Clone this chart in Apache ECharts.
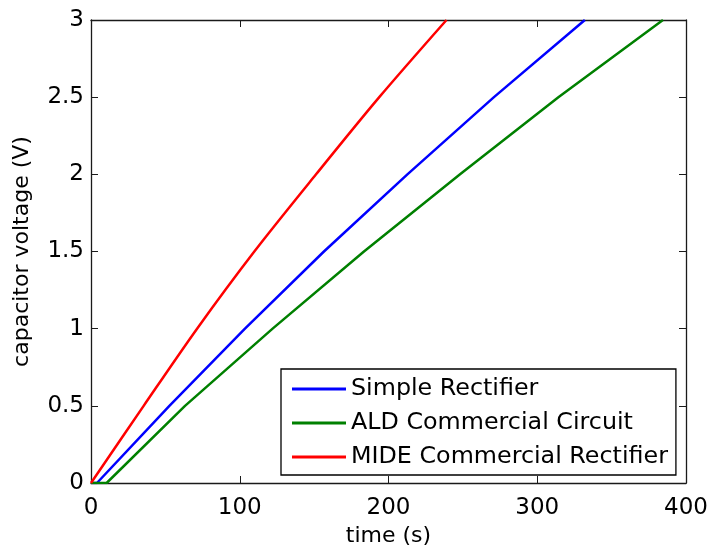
<!DOCTYPE html>
<html>
<head>
<meta charset="utf-8">
<script src="https://cdn.jsdelivr.net/npm/echarts@6/dist/echarts.min.js"></script>
<style>html,body{margin:0;padding:0;background:#fff;}#c{width:722px;height:548px;}</style>
</head>
<body>
<div id="c"></div>
<script>
// Data (time in s, capacitor voltage in V)
var seriesNames = ['Simple Rectifier', 'ALD Commercial Circuit', 'MIDE Commercial Rectifier'];
var simpleTime = [0, 4, 52.7, 103.5, 156.6, 212.7, 270.9, 332];
var simpleVolt = [0, 0, 0.5, 1.0, 1.5, 2.0, 2.5, 3.0];
var aldTime = [0, 10.5, 63.2, 122.1, 183.5, 248.1, 314.2, 384.5];
var aldVolt = [0, 0, 0.5, 1.0, 1.5, 2.0, 2.5, 3.0];
var mideTime = [0, 35.4, 71.3, 109.8, 151.3, 193.8, 239];
var mideVolt = [0, 0.5, 1.0, 1.5, 2.0, 2.5, 3.0];
var xTicks = [0, 100, 200, 300, 400];
var yTicks = [0, 0.5, 1, 1.5, 2, 2.5, 3];

function pairs(t, v) { return t.map(function (x, i) { return [x, v[i]]; }); }

var FONT = 'DejaVu Sans';
var axisCol = '#1a1a1a';
var chart = echarts.init(document.getElementById('c'), null, { renderer: 'canvas' });
function xAx(pos, show) {
  return {
    type: 'value', position: pos, min: xTicks[0], max: xTicks[xTicks.length - 1], interval: 100,
    name: show ? 'time (s)' : '', nameLocation: 'middle', nameGap: 38,
    nameTextStyle: { fontFamily: FONT, fontSize: 22, color: '#000' },
    axisLine: { show: true, onZero: false, lineStyle: { color: axisCol, width: 1.3 } },
    axisTick: { show: true, inside: true, length: 7, lineStyle: { color: axisCol } },
    axisLabel: { show: show, fontFamily: FONT, fontSize: 23, color: '#000', margin: 14 },
    splitLine: { show: false }
  };
}
function yAx(pos, show) {
  return {
    type: 'value', position: pos, min: yTicks[0], max: yTicks[yTicks.length - 1], interval: 0.5,
    name: show ? 'capacitor voltage (V)' : '', nameLocation: 'middle', nameGap: 58,
    nameTextStyle: { fontFamily: FONT, fontSize: 22, color: '#000' },
    axisLine: { show: true, onZero: false, lineStyle: { color: axisCol, width: 1.3 } },
    axisTick: { show: true, inside: true, length: 7, lineStyle: { color: axisCol } },
    axisLabel: { show: show, fontFamily: FONT, fontSize: 23, color: '#000', margin: 7,
      formatter: function (v) { return String(v); } },
    splitLine: { show: false }
  };
}
function line(name, t, v, color, smooth) {
  return {
    name: name, type: 'line', xAxisIndex: 0, yAxisIndex: 0,
    data: pairs(t, v), showSymbol: false, symbol: 'none',
    smooth: smooth,
    lineStyle: { color: color, width: 2.5 }, itemStyle: { color: color },
    clip: true
  };
}
chart.setOption({
  animation: false,
  backgroundColor: '#fff',
  grid: { left: 91, right: 36, top: 20, bottom: 65, containLabel: false, outerBoundsMode: 'none' },
  xAxis: [xAx('bottom', true), xAx('top', false)],
  yAxis: [yAx('left', true), yAx('right', false)],
  legend: {
    data: seriesNames.map(function (n) { return { name: n, icon: 'rect' }; }),
    left: 281, top: 369, orient: 'vertical',
    padding: [8, 8, 6, 11], itemGap: 10,
    itemWidth: 54, itemHeight: 3,
    borderColor: '#000', borderWidth: 1.3, backgroundColor: '#fff',
    textStyle: { fontFamily: FONT, fontSize: 23.8, color: '#000', lineHeight: 24 }
  },
  series: [
    line(seriesNames[0], simpleTime, simpleVolt, '#0000ff', false),
    line(seriesNames[1], aldTime, aldVolt, '#008000', false),
    line(seriesNames[2], mideTime, mideVolt, '#ff0000', 0.3)
  ]
});
</script>
</body>
</html>
